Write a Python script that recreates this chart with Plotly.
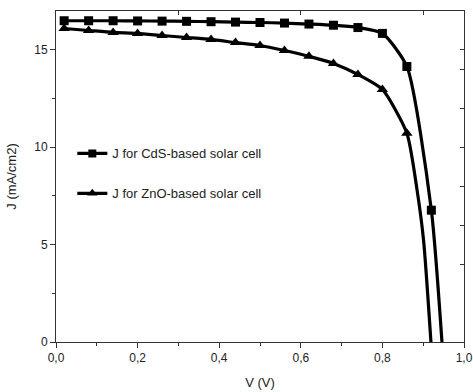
import plotly.graph_objects as go

# CdS-based cell (marker points) + tail down to J=0
v_cds = [0.02, 0.08, 0.14, 0.20, 0.26, 0.32, 0.38, 0.44, 0.50, 0.56, 0.62, 0.68, 0.74, 0.80, 0.86, 0.92]
j_cds = [16.50, 16.50, 16.50, 16.49, 16.48, 16.47, 16.45, 16.43, 16.41, 16.38, 16.33, 16.27, 16.15, 15.85, 14.15, 6.77]
v_cds_tail = [0.946]
j_cds_tail = [0.0]

# ZnO-based cell (marker points) + tail down to J=0
v_zno = [0.02, 0.08, 0.14, 0.20, 0.26, 0.32, 0.38, 0.44, 0.50, 0.56, 0.62, 0.68, 0.74, 0.80, 0.86]
j_zno = [16.10, 16.00, 15.90, 15.85, 15.74, 15.64, 15.54, 15.38, 15.23, 14.97, 14.67, 14.31, 13.74, 12.97, 10.72]
v_zno_tail = [0.885, 0.901, 0.919]
j_zno_tail = [7.8, 5.2, 0.0]

names = ["J for CdS-based solar cell", "J for ZnO-based solar cell"]

x_ticks = [0.0, 0.2, 0.4, 0.6, 0.8, 1.0]
x_labels = ["0,0", "0,2", "0,4", "0,6", "0,8", "1,0"]
y_ticks = [0, 5, 10, 15]
y_labels = ["0", "5", "10", "15"]

FONT = "Arial, Liberation Sans, sans-serif"
LW = 3.2

fig = go.Figure()

series = [
    (v_cds, j_cds, v_cds_tail, j_cds_tail, "square", 9, names[0], "a"),
    (v_zno, j_zno, v_zno_tail, j_zno_tail, "triangle-up", 10, names[1], "b"),
]
for vx, jy, vt, jt, sym, msz, nm, grp in series:
    # full smooth curve (no legend)
    fig.add_trace(go.Scatter(
        x=vx + vt, y=jy + jt, mode="lines", showlegend=False,
        line=dict(color="black", width=LW, shape="spline", smoothing=0.6),
        hoverinfo="skip",
    ))
    # markers
    fig.add_trace(go.Scatter(
        x=vx, y=jy, mode="markers", showlegend=False,
        marker=dict(symbol=sym, color="black", size=msz),
    ))
    # legend entry
    fig.add_trace(go.Scatter(
        x=[None], y=[None], mode="lines+markers", name=nm, legendgroup=grp,
        line=dict(color="black", width=LW),
        marker=dict(symbol=sym, color="black", size=msz - 1),
    ))

# host for top/right axes
fig.add_trace(go.Scatter(x=[None], y=[None], xaxis="x2", yaxis="y2", showlegend=False))

fig.update_layout(
    width=473, height=392,
    margin=dict(l=56, r=9, t=11, b=50),
    paper_bgcolor="white", plot_bgcolor="white",
    font=dict(family=FONT, size=12, color="#222"),
    showlegend=True,
    legend=dict(x=0.04, y=0.615, xanchor="left", yanchor="top",
                bgcolor="rgba(0,0,0,0)", font=dict(size=13, color="#222"),
                traceorder="grouped", tracegroupgap=20, itemwidth=30),
    xaxis=dict(range=[0, 1.0], tickvals=x_ticks, ticktext=x_labels,
               ticks="outside", ticklen=5, tickwidth=1, tickcolor="#333",
               showline=True, linecolor="#333", linewidth=1,
               showgrid=False, zeroline=False, automargin=False,
               minor=dict(dtick=0.1, ticks="outside", ticklen=3, tickcolor="#333"),
               title=dict(text="V (V)", font=dict(size=13), standoff=13)),
    yaxis=dict(range=[0, 17], tickvals=y_ticks, ticktext=y_labels,
               ticks="outside", ticklen=5, tickwidth=1, tickcolor="#333",
               showline=True, linecolor="#333", linewidth=1,
               showgrid=False, zeroline=False, automargin=False,
               minor=dict(tickvals=[2.5, 7.5, 12.5], ticks="outside", ticklen=3, tickcolor="#333"),
               title=dict(text="J (mA/cm2)", font=dict(size=13), standoff=14)),
    xaxis2=dict(overlaying="x", side="top", range=[0, 1.0], automargin=False,
                tickvals=[0.3, 0.6, 0.9], ticks="inside", ticklen=4, tickcolor="#333",
                showticklabels=False, showline=True, linecolor="#333", linewidth=1,
                showgrid=False, zeroline=False),
    yaxis2=dict(overlaying="y", side="right", range=[0, 17], automargin=False,
                tickvals=[4, 6, 8, 10, 12, 14, 15], ticks="inside", ticklen=4, tickcolor="#333",
                showticklabels=False, showline=True, linecolor="#333", linewidth=1,
                showgrid=False, zeroline=False),
)

fig.write_html("out.html",
               config={"displayModeBar": False},
               post_script="document.body.style.margin='0px';document.body.style.overflow='hidden';")
